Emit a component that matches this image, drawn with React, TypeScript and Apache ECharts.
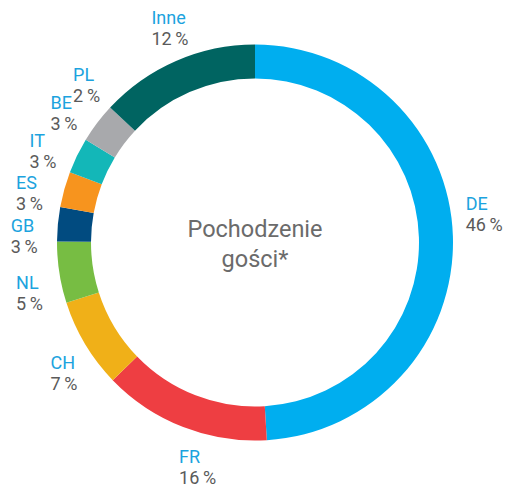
import React, { useEffect, useRef } from "react";
import * as echarts from "echarts";

const categories = ["DE", "FR", "CH", "NL", "GB", "ES", "IT", "BE", "PL", "Inne"];
// percentages printed in the labels
const labelPercents = [46, 16, 7, 5, 3, 3, 3, 3, 2, 12];
// slice sizes as drawn in the picture (PL has no visible slice)
const sliceShares = [49.0, 13.7, 7.3, 5.0, 2.8, 2.9, 2.9, 3.25, 0, 13.05];
const sliceColors = [
  "#00aeef", "#ee3e42", "#f0b018", "#77bd43", "#014b80",
  "#f7941e", "#13b7b8", "#a8a9ac", "#a8a9ac", "#006461",
];
const centerTitle = "Pochodzenie\ngości*";

const FONT = "Roboto, 'Noto Sans', sans-serif";

export default function App() {
  const ref = useRef<HTMLDivElement>(null);
  useEffect(() => {
    document.body.style.margin = "0";
    if (!ref.current) return;
    const chart = echarts.init(ref.current, undefined, { renderer: "svg" });
    const cx = 255;
    const cy = 242.5;
    const labelR = 231;
    const total = labelPercents.reduce((a, b) => a + b, 0);
    const cum: number[] = [];
    labelPercents.reduce((acc, v, i) => {
      cum[i] = acc + v / 2;
      return acc + v;
    }, 0);

    chart.setOption({
      animation: false,
      backgroundColor: "#ffffff",
      graphic: [
        {
          type: "text",
          x: cx,
          y: cy + 1,
          style: {
            text: centerTitle,
            align: "center",
            verticalAlign: "middle",
            fontFamily: FONT,
            fontSize: 23.5,
            lineHeight: 30,
            fill: "#6b6b6b",
          },
        },
      ],
      series: [
        {
          type: "pie",
          name: "slices",
          center: [cx, cy],
          radius: [164, 198],
          startAngle: 90,
          clockwise: true,
          silent: true,
          label: { show: false },
          labelLine: { show: false },
          data: categories.map((c, i) => ({
            name: c,
            value: sliceShares[i],
            itemStyle: { color: sliceColors[i] },
          })),
        },
        {
          type: "pie",
          name: "labels",
          center: [cx, cy],
          radius: [196, 198],
          startAngle: 90,
          clockwise: true,
          silent: true,
          avoidLabelOverlap: false,
          itemStyle: { color: "rgba(0,0,0,0)" },
          labelLine: { show: false },
          label: {
            show: true,
            position: "outside",
            textBorderWidth: 0,
            formatter: (p: any) => `{n|${p.name}}\n{v|${labelPercents[p.dataIndex]}\u2009%}`,
            rich: {
              n: {
                fontFamily: FONT,
                fontSize: 18,
                lineHeight: 22,
                color: "#1ca3de",
                align: "left",
              },
              v: {
                fontFamily: FONT,
                fontSize: 18,
                lineHeight: 20,
                color: "#5a5a5a",
                align: "left",
              },
            },
          },
          labelLayout: (params: any) => {
            const i = params.dataIndex;
            const a = (cum[i] / total) * Math.PI * 2;
            return {
              x: cx + labelR * Math.sin(a),
              y: cy - labelR * Math.cos(a),
              align: "center",
              verticalAlign: "middle",
              hideOverlap: false,
            };
          },
          data: categories.map((c, i) => ({ name: c, value: labelPercents[i] })),
        },
      ],
    });
    return () => chart.dispose();
  }, []);
  return <div ref={ref} style={{ width: 512, height: 487 }} />;
}
